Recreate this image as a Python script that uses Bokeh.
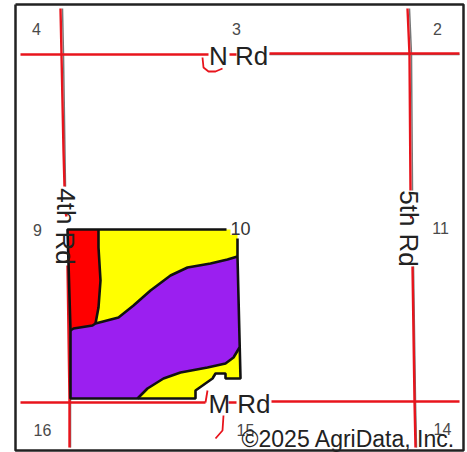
from bokeh.plotting import figure
from bokeh.models import Range1d
from bokeh.core.properties import value
from bokeh.embed import file_html
from bokeh.resources import INLINE

# Map geometry (x to the right, y downward)
frame_x = [15, 463, 463, 15, 15]
frame_y = [4, 4, 450, 450, 4]

red_x = [67, 98, 98, 100, 98, 95, 92, 73, 70]
red_y = [229, 229, 247, 280, 307, 323, 325, 328, 330]

top_yellow_x = [98, 237, 237, 227, 210, 187, 170, 150, 133, 118, 95, 98, 100, 98]
top_yellow_y = [229, 229, 256, 259, 263, 267, 275, 290, 305, 317, 323, 307, 280, 247]

purple_x = [70, 73, 92, 95, 118, 133, 150, 170, 187, 210, 227, 237, 239, 233, 225, 207, 180, 163, 147, 137, 70]
purple_y = [330, 328, 325, 323, 317, 305, 290, 275, 267, 263, 259, 256, 347, 357, 363, 367, 372, 378, 388, 398, 398]

low_yellow_x = [239, 240, 225, 225, 215, 212, 195, 195, 137, 147, 163, 180, 207, 225, 233]
low_yellow_y = [347, 378, 378, 373, 373, 378, 390, 398, 398, 388, 378, 372, 367, 363, 357]

boundary_xs = [
    [226, 67, 70, 70, 195, 195, 212, 215, 225, 225, 240, 237, 237],
    [98, 98, 100, 98, 95],
    [70, 73, 92, 95, 118, 133, 150, 170, 187, 210, 227, 237],
    [239, 233, 225, 207, 180, 163, 147, 137],
]
boundary_ys = [
    [229, 229, 330, 398, 398, 390, 378, 373, 373, 378, 378, 256, 238],
    [229, 247, 280, 307, 323],
    [330, 328, 325, 323, 317, 305, 290, 275, 267, 263, 259, 256],
    [347, 357, 363, 367, 372, 378, 388, 398],
]

road_xs = [
    [20, 208], [229, 236], [269, 459],
    [20, 205], [228, 236], [271, 459],
    [60, 61, 63, 64], [65, 66], [67, 69, 69],
    [407, 409, 410], [410, 411], [412, 414, 415],
]
road_ys = [
    [54, 54], [54, 54], [53, 53],
    [402, 402], [402, 402], [401, 401],
    [8, 54, 150, 186], [212, 216], [265, 400, 447],
    [8, 54, 190], [214, 218], [266, 400, 447],
]
gray_road_xs = [[62, 63, 65], [68, 70, 70], [409, 411, 412], [413, 415, 416], [269, 459]]
gray_road_ys = [[8, 54, 186], [265, 400, 447], [8, 54, 190], [266, 400, 447], [54, 54]]
squiggle_xs = [[202, 203, 208, 215, 222], [207, 205], [223, 222, 215]]
squiggle_ys = [[57, 67, 71, 71, 68], [390, 402], [415, 430, 438]]

section_labels = ["4", "3", "2", "9", "11", "16", "15", "14"]
section_x = [36, 236, 437, 37, 440, 42, 245, 442]
section_y = [28, 28, 28, 229, 227, 429, 429, 428]

road_names = ["N Rd", "M Rd"]
road_name_x = [238, 239]
road_name_y = [55, 403]
road_names_v = ["4th Rd", "5th Rd"]
road_name_v_x = [65, 408]
road_name_v_y = [226, 228]

p = figure(width=467, height=452, output_backend="svg", toolbar_location=None,
           x_range=Range1d(0, 467), y_range=Range1d(452, 0), min_border=0)
p.xaxis.visible = False
p.yaxis.visible = False
p.grid.visible = False
p.outline_line_color = None

for xs, ys, c in [(red_x, red_y, "#ff0000"), (top_yellow_x, top_yellow_y, "#ffff00"),
                  (purple_x, purple_y, "#9b1ff0"), (low_yellow_x, low_yellow_y, "#ffff00")]:
    p.patch(xs, ys, fill_color=c, line_color=None)

p.multi_line(gray_road_xs, gray_road_ys, line_color="#777777", line_width=1.5)
p.multi_line(road_xs, road_ys, line_color="#e8141c", line_width=2.4)
p.multi_line(squiggle_xs, squiggle_ys, line_color="#e8141c", line_width=1.8)
p.multi_line(boundary_xs, boundary_ys, line_color="#111111", line_width=2.6)
p.line(frame_x, frame_y, line_color="#222222", line_width=2.5)

font = value("Liberation Sans")
p.text(section_x, section_y, text=section_labels, text_font=font, text_font_size="16px",
       text_color="#4a4a4a", text_align="center", text_baseline="middle")
p.text([240], [228], text=["10"], text_font=font, text_font_size="18px", text_color="#333333",
       text_align="center", text_baseline="middle", background_fill_color="white")
p.text(road_name_x, road_name_y, text=road_names, text_font=font, text_font_size="26px",
       text_color="#222222", text_align="center", text_baseline="middle")
p.text(road_name_v_x, road_name_v_y, text=road_names_v, text_font=font, text_font_size="26px",
       text_color="#222222", text_align="center", text_baseline="middle", angle=[-1.5708, -1.5708])
p.text([348], [438], text=["©2025 AgriData, Inc."], text_font=font, text_font_size="23px",
       text_color="#222222", text_align="center", text_baseline="middle")

open("out.html", "w").write(file_html(p, INLINE))
